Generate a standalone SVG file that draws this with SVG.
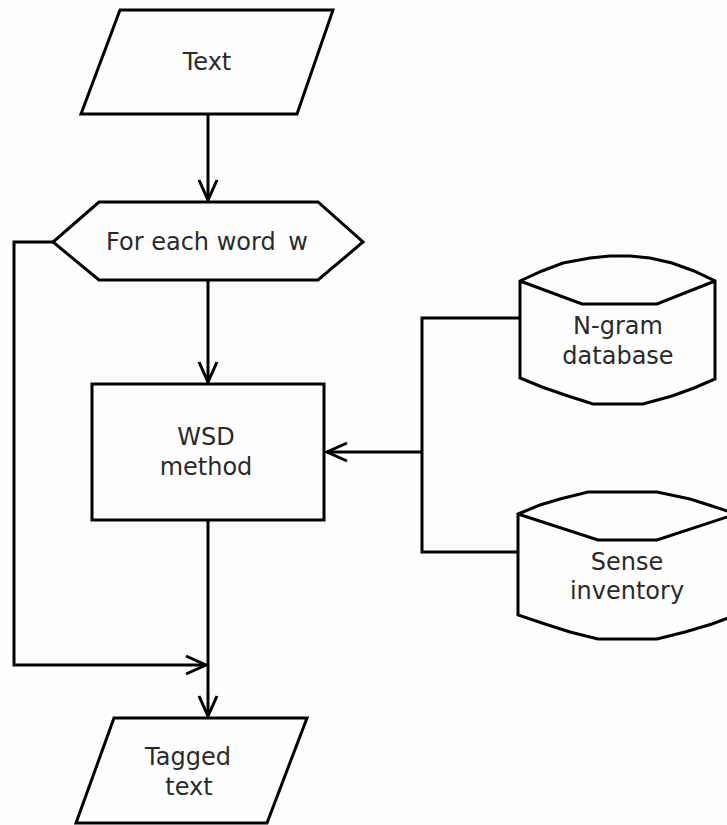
<svg xmlns="http://www.w3.org/2000/svg" width="727" height="825" viewBox="0 0 727 825">
<style>
.s{fill:#fefefe;stroke:#000;stroke-width:3;stroke-linejoin:miter}
.c{fill:none;stroke:#000;stroke-width:3}
.t{font-family:"DejaVu Sans",sans-serif;font-size:24px;fill:#2a2a2a;text-anchor:middle}
</style>
<defs>
<marker id="a" markerUnits="userSpaceOnUse" markerWidth="26" markerHeight="24" refX="22" refY="12" orient="auto" viewBox="0 0 26 24">
<path d="M2,3 L22,12 L2,21" fill="none" stroke="#000" stroke-width="3"/>
</marker>
</defs>
<rect width="727" height="825" fill="#fdfdfd"/>
<g id="connectors">
<path class="c" d="M208,114 V200" marker-end="url(#a)"/>
<path class="c" d="M208,280 V382" marker-end="url(#a)"/>
<path class="c" d="M208,520 V716" marker-end="url(#a)"/>
<path class="c" d="M53,242 H14 V665 H206" marker-end="url(#a)"/>
<path class="c" d="M520,318 H422 V552 H518"/>
<path class="c" d="M422,452 H327" marker-end="url(#a)"/>
</g>
<g id="text-input">
<polygon class="s" points="120,10 333,10 297,114 81,114"/>
<text class="t" x="207" y="70">Text</text>
</g>
<g id="for-each">
<polygon class="s" points="99,202 318,202 363,242 318,280 99,280 53,242"/>
<text class="t" x="207" y="250">For each word <tspan dx="5">w</tspan></text>
</g>
<g id="wsd">
<rect class="s" x="92" y="384" width="232" height="136"/>
<text class="t" x="206" y="445">WSD</text>
<text class="t" x="206" y="475">method</text>
</g>
<g id="ngram">
<path class="s" d="M520,281 L542,271 L563,263 L590,258 L610,256 L630,256 L650,258 L672,263 L694,271 L715,281 V379 L694,388 L672,396 L643,404 L593,404 L565,395 L542,387 L520,378 Z"/>
<path class="c" d="M520,281 L582,304 L657,304 L715,281"/>
<text class="t" x="618" y="334">N-gram</text>
<text class="t" x="618" y="364">database</text>
</g>
<g id="sense">
<path class="s" d="M518,514 L540,505 L560,499 L588,492 L657,492 L690,499 L712,506 L736,514 V615 L712,624 L685,632 L657,639 L598,639 L570,632 L545,624 L518,615 Z"/>
<path class="c" d="M518,514 L598,540 L657,540 L736,514"/>
<text class="t" x="627" y="570">Sense</text>
<text class="t" x="627" y="599">inventory</text>
</g>
<g id="tagged">
<polygon class="s" points="114,718 307,718 267,823 76,823"/>
<text class="t" x="188" y="765">Tagged</text>
<text class="t" x="189" y="795">text</text>
</g>
</svg>
